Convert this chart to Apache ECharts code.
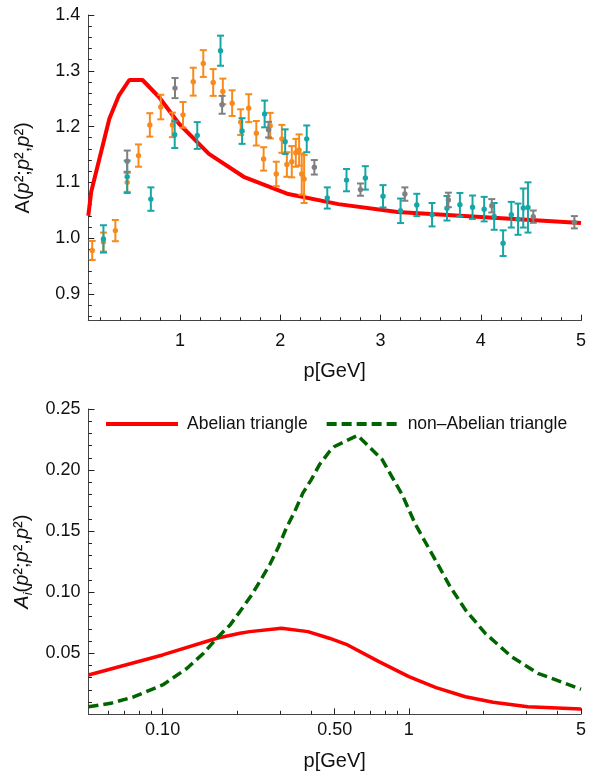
<!DOCTYPE html>
<html>
<head>
<meta charset="utf-8">
<script src="https://cdn.jsdelivr.net/npm/echarts@6/dist/echarts.min.js"></script>
<style>
html,body{margin:0;padding:0;background:#fff;}
#c{width:589px;height:776px;}
</style>
</head>
<body>
<div id="c"></div>
<script>
// ---------- Top panel data ----------
// red model curve: [p, A]
const topCurve = [
  [0.085, 1.040], [0.114, 1.083], [0.295, 1.214], [0.388, 1.255], [0.494, 1.2835],
  [0.626, 1.2835], [0.79, 1.253], [0.99, 1.205], [1.288, 1.151], [1.635, 1.110],
  [2.08, 1.079], [2.58, 1.061], [3.17, 1.047], [5.0, 1.027]
];
// lattice points: [p, A, error]
const orangeData = [
  [0.124, 0.978, 0.017], [0.236, 0.993, 0.017], [0.355, 1.0135, 0.019], [0.473, 1.100, 0.017],
  [0.586, 1.148, 0.020], [0.699, 1.203, 0.021], [0.808, 1.235, 0.022], [0.924, 1.203, 0.022],
  [1.030, 1.221, 0.023], [1.132, 1.2805, 0.025], [1.232, 1.313, 0.024], [1.331, 1.279, 0.024],
  [1.427, 1.263, 0.023], [1.520, 1.242, 0.023], [1.605, 1.208, 0.023], [1.685, 1.233, 0.025],
  [1.761, 1.188, 0.022], [1.834, 1.142, 0.021], [1.900, 1.2016, 0.023], [1.960, 1.115, 0.022],
  [2.016, 1.178, 0.025], [2.066, 1.132, 0.022], [2.115, 1.137, 0.028], [2.155, 1.153, 0.025],
  [2.188, 1.158, 0.028], [2.214, 1.115, 0.037], [2.238, 1.106, 0.043]
];
const tealData = [
  [0.236, 0.9986, 0.0245], [0.473, 1.110, 0.029], [0.709, 1.070, 0.021], [0.947, 1.1855, 0.024],
  [1.172, 1.184, 0.024], [1.404, 1.336, 0.027], [1.619, 1.192, 0.023], [1.844, 1.2226, 0.024],
  [2.049, 1.173, 0.022], [2.264, 1.178, 0.024], [2.469, 1.072, 0.019], [2.661, 1.104, 0.020],
  [2.849, 1.108, 0.021], [3.025, 1.075, 0.020], [3.200, 1.049, 0.022], [3.362, 1.0595, 0.020],
  [3.514, 1.042, 0.021], [3.663, 1.0536, 0.022], [3.792, 1.060, 0.021], [3.918, 1.0554, 0.021],
  [4.034, 1.052, 0.022], [4.134, 1.039, 0.024], [4.223, 0.991, 0.023], [4.305, 1.042, 0.023],
  [4.372, 1.034, 0.028], [4.424, 1.054, 0.035], [4.471, 1.055, 0.045]
];
const grayData = [
  [0.473, 1.138, 0.019], [0.950, 1.269, 0.018], [1.420, 1.239, 0.016], [1.883, 1.1945, 0.014],
  [2.340, 1.127, 0.013], [2.800, 1.087, 0.011], [3.243, 1.079, 0.012], [3.677, 1.0685, 0.013],
  [4.110, 1.058, 0.012], [4.524, 1.0385, 0.011], [4.934, 1.0285, 0.011]
];
const topXLabels = [1, 2, 3, 4, 5];
const topXMinor = [0.2,0.4,0.6,0.8,1.2,1.4,1.6,1.8,2.2,2.4,2.6,2.8,3.2,3.4,3.6,3.8,4.2,4.4,4.6,4.8];
const topYLabels = [0.9, 1.0, 1.1, 1.2, 1.3, 1.4];
const topYMinor = [0.86,0.88,0.92,0.94,0.96,0.98,1.02,1.04,1.06,1.08,1.12,1.14,1.16,1.18,1.22,1.24,1.26,1.28,1.32,1.34,1.36,1.38];

// ---------- Bottom panel data ----------
const abelian = [
  [0.05, 0.0322], [0.1, 0.0486], [0.166, 0.0623], [0.206, 0.0664], [0.226, 0.0677],
  [0.304, 0.0705], [0.389, 0.0677], [0.475, 0.0623], [0.564, 0.0568], [0.756, 0.0431],
  [1.0, 0.0308], [1.29, 0.0218], [1.697, 0.0144], [2.2, 0.0098], [3.04, 0.0062], [5.0, 0.0043]
];
const nonAbelian = [
  [0.05, 0.0062], [0.0616, 0.009], [0.0766, 0.0144], [0.1, 0.024], [0.1257, 0.0377],
  [0.1466, 0.050], [0.166, 0.0623], [0.188, 0.0732], [0.206, 0.0841], [0.230, 0.0978],
  [0.248, 0.1087], [0.272, 0.1224], [0.294, 0.1361], [0.318, 0.1525], [0.344, 0.1661],
  [0.371, 0.1811], [0.401, 0.192], [0.433, 0.2043], [0.476, 0.2152], [0.499, 0.2193],
  [0.619, 0.2284], [0.78, 0.2084], [0.94, 0.1797], [1.065, 0.1552], [1.28, 0.1265],
  [1.47, 0.1046], [1.697, 0.0855], [2.04, 0.0664], [2.61, 0.0472], [3.34, 0.0336], [5.0, 0.0205]
];
const botXLabels = [0.1, 0.5, 1, 5];
const botXMinor = [0.06,0.07,0.08,0.09,0.2,0.3,0.4,0.6,0.7,0.8,0.9,2,3,4];
const botYLabels = [0.05, 0.10, 0.15, 0.20, 0.25];
const botYMinor = [0.01,0.02,0.03,0.04,0.06,0.07,0.08,0.09,0.11,0.12,0.13,0.14,0.16,0.17,0.18,0.19,0.21,0.22,0.23,0.24];

const FONT = '"Liberation Sans", Arial, Helvetica, sans-serif';
const AXIS_COLOR = '#444';
const TICK_COLOR = '#222';
const LABEL_SIZE = 18;

function errRender(color) {
  return function (params, api) {
    const x = api.value(0), y = api.value(1), e = api.value(2);
    const p = api.coord([x, y]);
    const lo = api.coord([x, y - e]);
    const hi = api.coord([x, y + e]);
    const w = 3.5;
    const st = { stroke: color, lineWidth: 2 };
    return {
      type: 'group',
      children: [
        { type: 'line', shape: { x1: p[0], y1: lo[1], x2: p[0], y2: hi[1] }, style: st },
        { type: 'line', shape: { x1: p[0] - w, y1: lo[1], x2: p[0] + w, y2: lo[1] }, style: st },
        { type: 'line', shape: { x1: p[0] - w, y1: hi[1], x2: p[0] + w, y2: hi[1] }, style: st },
        { type: 'circle', shape: { cx: p[0], cy: p[1], r: 2.7 }, style: { fill: color } }
      ]
    };
  };
}

function mainAxis(opts, tickVals, labelOpts) {
  return Object.assign({
    axisLine: { show: true, onZero: false, lineStyle: { color: AXIS_COLOR } },
    splitLine: { show: false },
    axisTick: { show: true, inside: true, length: 6, customValues: tickVals, lineStyle: { color: TICK_COLOR } },
    axisLabel: Object.assign({ show: true, color: '#111', fontFamily: FONT, fontSize: LABEL_SIZE, customValues: tickVals }, labelOpts)
  }, opts);
}
function minorAxis(opts, vals) {
  return Object.assign({
    axisLine: { show: false, onZero: false },
    splitLine: { show: false },
    axisTick: { show: true, inside: true, length: 3.5, customValues: vals, lineStyle: { color: TICK_COLOR } },
    axisLabel: { show: false }
  }, opts);
}

const titleRichTop = {
  t: { fontFamily: FONT, fontSize: 20, color: '#111' },
  p: { fontFamily: FONT, fontSize: 20, fontStyle: 'italic', color: '#111' }
};
const titleRichBot = {
  t: { fontFamily: FONT, fontSize: 20, color: '#111', lineHeight: 24 },
  p: { fontFamily: FONT, fontSize: 20, fontStyle: 'italic', color: '#111', lineHeight: 24 },
  s: { fontFamily: FONT, fontSize: 13, fontStyle: 'italic', color: '#111', lineHeight: 24, verticalAlign: 'bottom' }
};

const chart = echarts.init(document.getElementById('c'), null, { renderer: 'canvas' });
chart.setOption({
  animation: false,
  backgroundColor: '#fff',
  grid: [
    { left: 88.3, right: 4.5, top: 15, bottom: 455.3, containLabel: false },
    { left: 88.5, right: 5.5, top: 409, bottom: 61.7, containLabel: false }
  ],
  legend: {
    show: true,
    left: 104, top: 414, padding: 0,
    itemWidth: 72, itemHeight: 14, itemGap: 17,
    itemStyle: { opacity: 0 },
    lineStyle: { width: 4 },
    textStyle: { fontFamily: FONT, fontSize: 17.5, color: '#111', lineHeight: 20, padding: [0, 0, 0, 4] },
    data: ['Abelian triangle', 'non\u2013Abelian triangle']
  },
  xAxis: [
    mainAxis({
      type: 'value', gridIndex: 0, min: 0.085, max: 5, position: 'bottom',
      name: 'p[GeV]', nameLocation: 'middle', nameGap: 41,
      nameTextStyle: { fontFamily: FONT, fontSize: 20, color: '#111' }
    }, topXLabels, { margin: 11 }),
    minorAxis({ type: 'value', gridIndex: 0, min: 0.085, max: 5, position: 'bottom' }, topXMinor),
    mainAxis({
      type: 'log', gridIndex: 1, min: 0.05, max: 5, position: 'bottom',
      name: 'p[GeV]', nameLocation: 'middle', nameGap: 37,
      nameTextStyle: { fontFamily: FONT, fontSize: 20, color: '#111' }
    }, botXLabels, {
      margin: 7,
      formatter: function (v) { return v < 1 ? Number(v).toFixed(2) : String(Math.round(v)); }
    }),
    minorAxis({ type: 'log', gridIndex: 1, min: 0.05, max: 5, position: 'bottom' }, botXMinor)
  ],
  yAxis: [
    mainAxis({
      type: 'value', gridIndex: 0, min: 0.852, max: 1.4, position: 'left',
      name: '{t|A(}{p|p}{t|²;}{p|p}{t|²,}{p|p}{t|²)}', nameLocation: 'middle', nameGap: 55, nameRotate: 90,
      nameTextStyle: { rich: titleRichTop }
    }, topYLabels, { margin: 8, formatter: function (v) { return Number(v).toFixed(1); } }),
    minorAxis({ type: 'value', gridIndex: 0, min: 0.852, max: 1.4, position: 'left' }, topYMinor),
    mainAxis({
      type: 'value', gridIndex: 1, min: 0, max: 0.25, position: 'left',
      name: '{p|A}{s|i}{t|(}{p|p}{t|²;}{p|p}{t|²,}{p|p}{t|²)}', nameLocation: 'middle', nameGap: 53, nameRotate: 90,
      nameTextStyle: { rich: titleRichBot }
    }, botYLabels, { margin: 8, formatter: function (v) { return Number(v).toFixed(2); } }),
    minorAxis({ type: 'value', gridIndex: 1, min: 0, max: 0.25, position: 'left' }, botYMinor)
  ],
  series: [
    {
      type: 'line', name: 'model', xAxisIndex: 0, yAxisIndex: 0, data: topCurve,
      showSymbol: false, symbol: 'none', clip: true,
      lineStyle: { color: '#ff0000', width: 4 }, z: 2
    },
    { type: 'custom', name: 'orange', xAxisIndex: 0, yAxisIndex: 0, data: orangeData,
      encode: { x: 0, y: 1 }, renderItem: errRender('#f78a1d'), z: 3 },
    { type: 'custom', name: 'teal', xAxisIndex: 0, yAxisIndex: 0, data: tealData,
      encode: { x: 0, y: 1 }, renderItem: errRender('#17a6a6'), z: 4 },
    { type: 'custom', name: 'gray', xAxisIndex: 0, yAxisIndex: 0, data: grayData,
      encode: { x: 0, y: 1 }, renderItem: errRender('#808080'), z: 5 },
    {
      type: 'line', name: 'Abelian triangle', xAxisIndex: 2, yAxisIndex: 2, data: abelian,
      showSymbol: false, symbol: 'none', clip: true,
      itemStyle: { color: '#ff0000' },
      lineStyle: { color: '#ff0000', width: 3.5 }
    },
    {
      type: 'line', name: 'non\u2013Abelian triangle', xAxisIndex: 2, yAxisIndex: 2, data: nonAbelian,
      showSymbol: false, symbol: 'none', clip: true,
      itemStyle: { color: '#006400' },
      lineStyle: { color: '#006400', width: 3.5, type: [10, 5] }
    }
  ]
});
</script>
</body>
</html>
